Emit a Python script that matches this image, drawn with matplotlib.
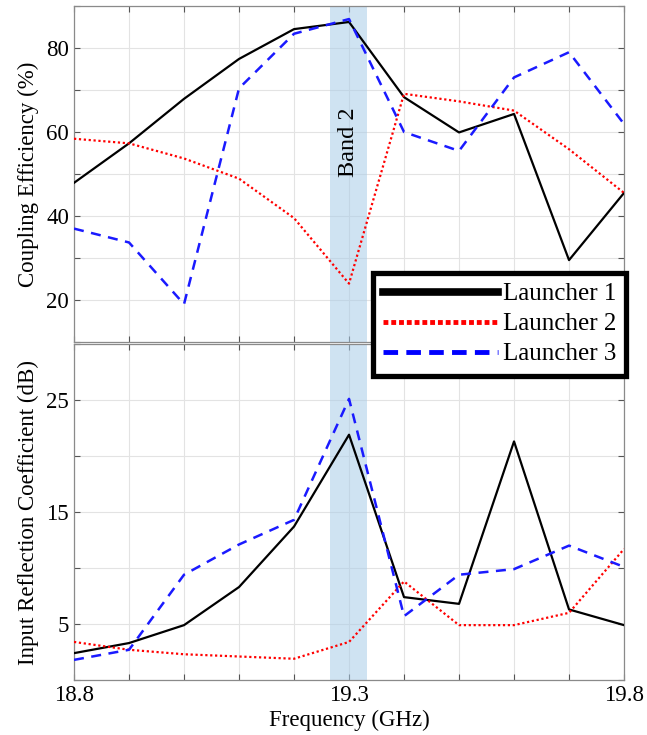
import numpy as np
import matplotlib
matplotlib.use("Agg")
import matplotlib.pyplot as plt
from matplotlib.lines import Line2D

plt.rcParams["font.family"] = ["Liberation Serif", "DejaVu Serif"]
plt.rcParams["mathtext.fontset"] = "stix"

# frequency sweep (GHz)
freq = [18.8, 18.9, 19.0, 19.1, 19.2, 19.3, 19.4, 19.5, 19.6, 19.7, 19.8]

# coupling efficiency (%)
eff_l1 = [47.9, 57.3, 67.9, 77.4, 84.5, 86.2, 68.3, 59.9, 64.3, 29.5, 45.5]
eff_l2 = [58.4, 57.3, 53.7, 48.9, 39.5, 23.9, 69.1, 67.3, 65.1, 55.9, 45.5]
eff_l3 = [37.0, 33.7, 19.0, 70.4, 83.4, 86.9, 60.0, 55.5, 73.0, 79.0, 61.9]

# input reflection coefficient (dB)
rl_l1 = [2.4, 3.3, 4.9, 8.3, 13.7, 21.9, 7.4, 6.8, 21.3, 6.3, 4.9]
rl_l2 = [3.4, 2.7, 2.3, 2.1, 1.9, 3.4, 8.8, 4.9, 4.9, 6.0, 11.7]
rl_l3 = [1.8, 2.7, 9.4, 12.1, 14.3, 25.1, 5.7, 9.4, 9.9, 12.0, 10.1]

labels = ["Launcher 1", "Launcher 2", "Launcher 3"]
band = (19.265, 19.333)

styles = [
    dict(color="black", linestyle="-", linewidth=1.6),
    dict(color="red", linestyle=(0, (1, 1.2)), linewidth=1.6),
    dict(color="#1a1aff", linestyle=(0, (4, 3)), linewidth=1.8),
]

fs = 16.5

fig = plt.figure(figsize=(6.47, 7.35), dpi=100)
ax1 = fig.add_axes([0.1144, 0.5347, 0.8501, 0.4571])
ax2 = fig.add_axes([0.1144, 0.0748, 0.8501, 0.4572], sharex=ax1)

for ax, series in ((ax1, (eff_l1, eff_l2, eff_l3)), (ax2, (rl_l1, rl_l2, rl_l3))):
    ax.axvspan(*band, color="#a9cce8", alpha=0.55, lw=0, zorder=1)
    for ys, st in zip(series, styles):
        ax.plot(freq, ys, zorder=3, **st)
    ax.grid(True, which="both", color="#e3e3e3", linewidth=0.8, zorder=0)
    ax.set_axisbelow(True)
    ax.tick_params(direction="in", top=True, right=True, which="both",
                   length=4, color="#555555", labelsize=fs)
    for sp in ax.spines.values():
        sp.set_color("#8a8a8a")
        sp.set_linewidth(0.9)

ax1.set_xlim(18.8, 19.8)
ax1.set_xticks(np.round(np.arange(18.8, 19.81, 0.1), 2))
ax1.tick_params(labelbottom=False)

ax1.set_ylim(10, 90)
ax1.set_yticks(np.arange(10, 91, 10))
ax1.set_yticklabels(["" if v % 20 else str(v) for v in range(10, 91, 10)])
ax1.set_ylabel("Coupling Efficiency (%)", fontsize=fs, labelpad=5)

ax2.set_ylim(0, 30)
ax2.set_yticks(np.arange(0, 31, 5))
ax2.set_yticklabels(["" if v % 10 != 5 else str(v) for v in range(0, 31, 5)])
ax2.set_xticklabels(["18.8", "", "", "", "", "19.3", "", "", "", "", "19.8"])
ax2.set_ylabel("Input Reflection Coefficient (dB)", fontsize=fs, labelpad=5)
ax2.set_xlabel("Frequency (GHz)", fontsize=fs, labelpad=3)

ax1.text(sum(band) / 2, 57.5, "Band 2", rotation=90, ha="center", va="center",
         fontsize=17.5)

# legend drawn with heavier line samples
handles = [
    Line2D([], [], color="black", linestyle="-", linewidth=5.5),
    Line2D([], [], color="red", linestyle=(0, (1, 0.6)), linewidth=3.5),
    Line2D([], [], color="#0000ff", linestyle=(0, (3, 1.7)), linewidth=3.5),
]
leg = fig.legend(handles, labels, loc="upper left",
                 bbox_to_anchor=(373 / 647, 1 - 273 / 735),
                 fontsize=18, frameon=True, fancybox=False, framealpha=1,
                 handlelength=4.6, handletextpad=0.2, borderpad=0.4,
                 labelspacing=0.3, borderaxespad=0.0)
leg.get_frame().set_edgecolor("black")
leg.get_frame().set_linewidth(3.8)
leg.set_zorder(10)

fig.savefig("out.png", dpi=100, facecolor="white")
